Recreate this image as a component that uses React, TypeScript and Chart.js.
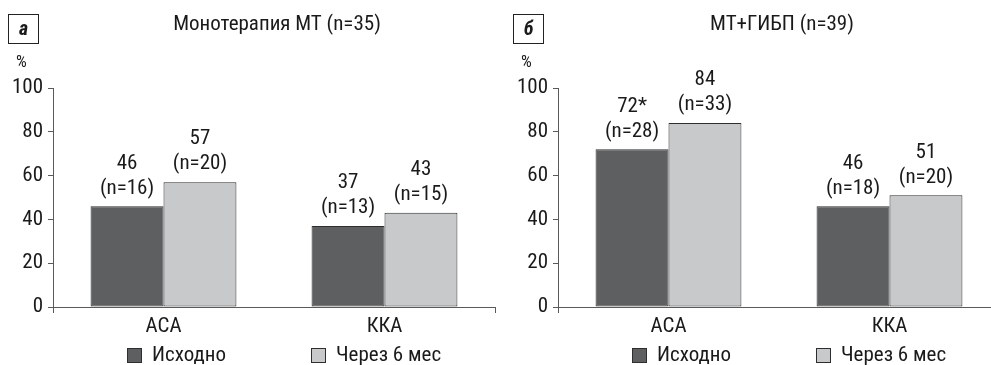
import React, { useEffect, useRef } from "react";
import { Chart, registerables } from "chart.js";

Chart.register(...registerables);

const categories = ["АСА", "ККА"];
const seriesNames = ["Исходно", "Через 6 мес"];
const yTicks = [0, 20, 40, 60, 80, 100];

const panelATitle = "Монотерапия МТ (n=35)";
const panelALetter = "а";
const panelABaseline = [46, 37];
const panelAAfter = [57, 43];
const panelABaselineN = [16, 13];
const panelAAfterN = [20, 15];
const panelABaselineMarks = ["", ""];
const panelAAfterMarks = ["", ""];

const panelBTitle = "МТ+ГИБП (n=39)";
const panelBLetter = "б";
const panelBBaseline = [72, 46];
const panelBAfter = [84, 51];
const panelBBaselineN = [28, 18];
const panelBAfterN = [33, 20];
const panelBBaselineMarks = ["*", ""];
const panelBAfterMarks = ["", ""];

const FONT = '"Roboto Condensed", Roboto, sans-serif';
const FS = 21;
const DARK = "#5e5f61";
const LIGHT = "#c8c9cb";
const EDGE = "#2e2e2e";
const AXIS = "#5a5a5a";
const TEXT = "#1a1a1a";

type Panel = {
  title: string;
  letter: string;
  values: number[][];
  ns: number[][];
  marks: string[][];
};

const panels: Panel[] = [
  {
    title: panelATitle,
    letter: panelALetter,
    values: [panelABaseline, panelAAfter],
    ns: [panelABaselineN, panelAAfterN],
    marks: [panelABaselineMarks, panelAAfterMarks],
  },
  {
    title: panelBTitle,
    letter: panelBLetter,
    values: [panelBBaseline, panelBAfter],
    ns: [panelBBaselineN, panelBAfterN],
    marks: [panelBBaselineMarks, panelBAfterMarks],
  },
];

function makeDecorPlugin(panel: Panel) {
  return {
    id: "decor",
    afterDatasetsDraw(chart: any) {
      const ctx = chart.ctx;
      ctx.save();
      ctx.fillStyle = TEXT;
      ctx.font = `${FS}px ${FONT}`;
      ctx.textAlign = "center";
      ctx.textBaseline = "middle";
      chart.data.datasets.forEach((ds: any, di: number) => {
        const meta = chart.getDatasetMeta(di);
        meta.data.forEach((bar: any, i: number) => {
          const v = ds.data[i];
          const label = `${v}${panel.marks[di][i]}`;
          const n = `(n=${panel.ns[di][i]})`;
          ctx.fillText(label, bar.x, bar.y - 43);
          ctx.fillText(n, bar.x, bar.y - 18);
        });
      });
      ctx.restore();
    },
    afterDraw(chart: any) {
      const ctx = chart.ctx;
      const area = chart.chartArea;
      ctx.save();
      ctx.fillStyle = TEXT;
      ctx.font = `${FS}px ${FONT}`;
      ctx.textAlign = "center";
      ctx.textBaseline = "middle";
      ctx.fillText(panel.title, 277, 25);
      ctx.strokeStyle = "#222";
      ctx.lineWidth = 1;
      ctx.strokeRect(8.5, 14.5, 30, 29);
      ctx.font = `italic bold 20px ${FONT}`;
      ctx.fillText(panel.letter, 23.5, 29.5);
      ctx.font = `17px ${FONT}`;
      ctx.fillText("%", 21.5, 62.5);
      const boxXs = [area.left + 74, area.left + 258];
      ctx.font = `${FS}px ${FONT}`;
      ctx.textAlign = "left";
      chart.data.datasets.forEach((ds: any, di: number) => {
        const x = boxXs[di];
        ctx.fillStyle = ds.backgroundColor;
        ctx.fillRect(x, 348, 15, 15);
        ctx.strokeStyle = EDGE;
        ctx.strokeRect(x + 0.5, 348.5, 14, 14);
        ctx.fillStyle = TEXT;
        ctx.fillText(ds.label, x + 25, 356);
      });
      ctx.restore();
    },
  };
}

function PanelChart({ panel, left }: { panel: Panel; left: number }) {
  const ref = useRef<HTMLCanvasElement | null>(null);
  useEffect(() => {
    if (!ref.current) return;
    const chart = new Chart(ref.current, {
      type: "bar",
      data: {
        labels: categories,
        datasets: [
          {
            label: seriesNames[0],
            data: panel.values[0],
            backgroundColor: DARK,
            borderColor: EDGE,
            borderWidth: 1,
            borderSkipped: false,
            barPercentage: 1,
            categoryPercentage: 0.66,
          },
          {
            label: seriesNames[1],
            data: panel.values[1],
            backgroundColor: LIGHT,
            borderColor: EDGE,
            borderWidth: 1,
            borderSkipped: false,
            barPercentage: 1,
            categoryPercentage: 0.66,
          },
        ],
      },
      options: {
        responsive: false,
        animation: false,
        events: [],
        layout: { padding: { top: 88, right: 5, left: 0, bottom: 0 } },
        font: { family: FONT, size: FS },
        plugins: {
          legend: { display: false },
          tooltip: { enabled: false },
          title: { display: false },
        },
        scales: {
          x: {
            type: "category",
            offset: true,
            afterFit: (s: any) => {
              s.height = 58;
            },
            grid: {
              offset: true,
              drawOnChartArea: false,
              drawTicks: true,
              tickLength: 6,
              color: (c: any) => (c.index === 1 ? "rgba(0,0,0,0)" : AXIS),
            },
            border: { display: true, color: AXIS, width: 1 },
            ticks: {
              color: TEXT,
              font: { family: FONT, size: FS },
              padding: 1,
            },
          },
          y: {
            type: "linear",
            min: 0,
            max: 100,
            afterFit: (s: any) => {
              s.width = 53;
            },
            afterBuildTicks: (s: any) => {
              s.ticks = yTicks.map((v) => ({ value: v }));
            },
            grid: {
              drawOnChartArea: false,
              drawTicks: true,
              tickLength: 5,
              color: AXIS,
            },
            border: { display: true, color: AXIS, width: 1 },
            ticks: {
              color: TEXT,
              font: { family: FONT, size: FS },
              padding: 5,
            },
          },
        },
      } as any,
      plugins: [makeDecorPlugin(panel)],
    });
    return () => chart.destroy();
  }, [panel]);
  return (
    <canvas
      ref={ref}
      width={500}
      height={365}
      style={{ position: "absolute", left, top: 0, width: 500, height: 365 }}
    />
  );
}

export default function App() {
  return (
    <div
      style={{
        position: "fixed",
        left: 0,
        top: 0,
        width: 991,
        height: 365,
        overflow: "hidden",
        background: "#fff",
      }}
    >
      <PanelChart panel={panels[0]} left={0} />
      <PanelChart panel={panels[1]} left={505} />
    </div>
  );
}
